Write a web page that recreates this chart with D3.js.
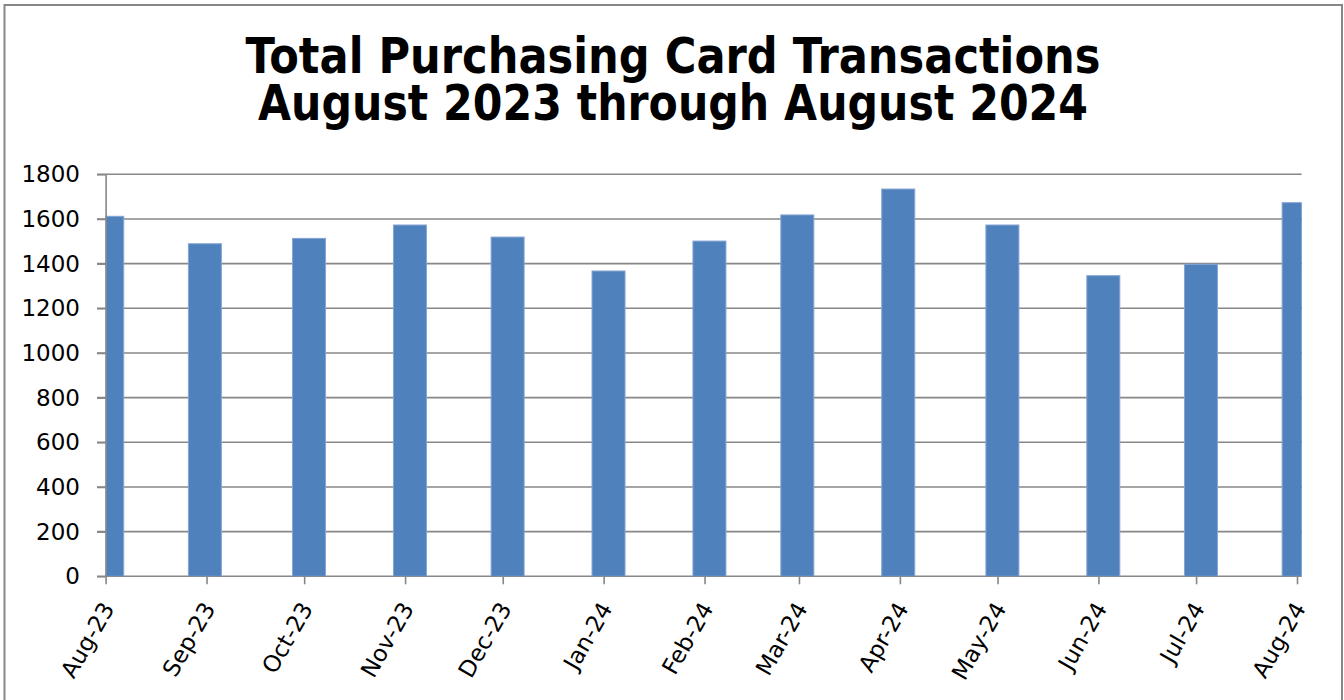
<!DOCTYPE html>
<html>
<head>
<meta charset="utf-8">
<script src="https://cdn.jsdelivr.net/npm/d3@7"></script>
<style>
  body { margin: 0; background: #fff; }
  .main text { font-family: "DejaVu Sans", sans-serif; fill: #000; }
</style>
</head>
<body>
<div class="main"></div>
<script>
// report dates as they sit on the date axis, one bar per month
const dates = ["2023-08-01", "2023-08-31", "2023-10-02", "2023-11-02", "2023-12-02", "2024-01-02",
               "2024-02-02", "2024-02-29", "2024-03-31", "2024-05-02", "2024-06-02", "2024-07-02", "2024-08-01"];
const transactions = [1612, 1489, 1513, 1573, 1519, 1367, 1501, 1618, 1734, 1573, 1346, 1397, 1673];
const yTicks = [0, 200, 400, 600, 800, 1000, 1200, 1400, 1600, 1800];
const axisStart = "2023-08-01";
const axisEnd = "2024-08-01";
const titleLines = ["Total Purchasing Card Transactions", "August 2023 through August 2024"];

const w = 1344;
const h = 700;
const plotLeft = 105.6;
const plotRight = 1301.7;
const plotTop = 174.3;
const plotBottom = 576.3;
const barWidth = 33;
const grey = "#878787";

const parse = d3.timeParse("%Y-%m-%d");
const data = dates.map((d, i) => ({ date: parse(d), value: transactions[i] }));

const svg = d3.select(".main")
  .append("svg")
  .attr("width", w)
  .attr("height", h);

// chart border
svg.append("rect")
  .attr("x", 4.5)
  .attr("y", 5)
  .attr("width", 1337.5)
  .attr("height", 710)
  .attr("fill", "none")
  .attr("stroke", grey)
  .attr("stroke-width", 2);

// title, two lines in one text
svg.append("text")
  .attr("font-size", "50px")
  .attr("font-weight", "bold")
  .attr("text-anchor", "middle")
  .selectAll("tspan")
  .data(titleLines)
  .enter()
  .append("tspan")
  .attr("x", 673)
  .attr("y", (d, i) => 73 + i * 47)
  .attr("textLength", (d, i) => i == 0 ? 855 : 830)
  .attr("lengthAdjust", "spacingAndGlyphs")
  .text((d) => d);

const xScale = d3.scaleTime()
  .domain([parse(axisStart), parse(axisEnd)])
  .range([plotLeft, 1297]);

const yScale = d3.scaleLinear()
  .domain([0, 1800])
  .range([plotBottom, plotTop]);

const dayWidth = xScale(d3.timeDay.offset(parse(axisStart), 1)) - xScale(parse(axisStart));

// gridlines
svg.selectAll(".grid")
  .data(yTicks)
  .enter()
  .append("line")
  .attr("class", "grid")
  .attr("x1", plotLeft - 8.6)
  .attr("x2", plotRight)
  .attr("y1", (d) => yScale(d))
  .attr("y2", (d) => yScale(d))
  .attr("stroke", grey)
  .attr("stroke-width", 1.6);

svg.append("clipPath")
  .attr("id", "plot")
  .append("rect")
  .attr("x", plotLeft)
  .attr("y", 0)
  .attr("width", plotRight - plotLeft)
  .attr("height", plotBottom);

svg.append("g")
  .attr("clip-path", "url(#plot)")
  .selectAll("rect")
  .data(data)
  .enter()
  .append("rect")
  .attr("x", (d) => xScale(d.date) + dayWidth / 2 - barWidth / 2)
  .attr("y", (d) => yScale(d.value))
  .attr("width", barWidth)
  .attr("height", (d) => plotBottom - yScale(d.value))
  .attr("fill", "#4f81bd")
  .attr("stroke", "#86a5d3")
  .attr("stroke-width", 1);

const yAxis = d3.axisLeft(yScale)
  .tickValues(yTicks)
  .tickFormat(d3.format("d"))
  .tickSize(8.6)
  .tickSizeOuter(0)
  .tickPadding(17);

const gy = svg.append("g")
  .attr("transform", "translate(" + plotLeft + ",0)")
  .call(yAxis);
gy.selectAll("line, path").attr("stroke", grey).attr("stroke-width", 1.6);
gy.selectAll("text").attr("font-size", "23px").attr("font-family", "DejaVu Sans");

const xAxis = d3.axisBottom(xScale)
  .ticks(d3.timeMonth.every(1))
  .tickFormat(d3.timeFormat("%b-%y"))
  .tickSize(8)
  .tickSizeOuter(0);

const gx = svg.append("g")
  .attr("transform", "translate(0," + plotBottom + ")")
  .call(xAxis);
gx.select(".domain").remove();
gx.selectAll("line").attr("stroke", grey).attr("stroke-width", 1.6);
gx.selectAll("text")
  .attr("font-size", "23px")
  .attr("font-family", "DejaVu Sans")
  .attr("x", 0)
  .attr("y", 0)
  .attr("dy", "0.35em")
  .attr("text-anchor", "end")
  .attr("transform", "translate(2,28) rotate(-60)");
</script>
</body>
</html>
